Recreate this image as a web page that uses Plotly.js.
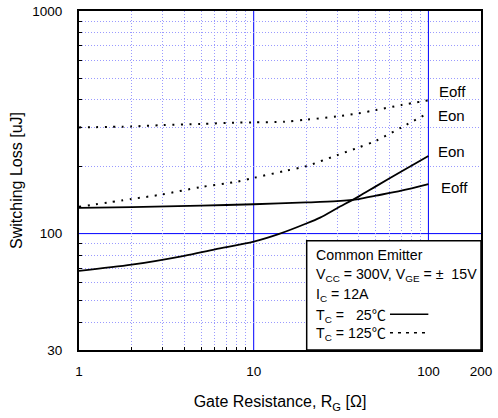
<!DOCTYPE html>
<html>
<head>
<meta charset="utf-8">
<script src="https://cdn.plot.ly/plotly-3.0.1.min.js"></script>
<style>html,body{margin:0;padding:0;background:#fff;}#chart{width:498px;height:418px;}</style>
</head>
<body>
<div id="chart"></div>
<script>
// Gate resistance (ohm) and switching loss (uJ)
const rgEon25 = [1, 2, 4, 6, 10, 14, 20, 24, 30, 40, 50, 70, 100];
const eon25 = [68, 72.5, 79.5, 85, 92, 99.7, 111, 118, 130, 147, 163, 190, 223];
const rgEoff25 = [1, 2, 5, 10, 20, 30, 40, 50, 70, 100];
const eoff25 = [130.5, 131.5, 133.5, 135.5, 138, 140, 143, 148, 156, 167];
const rg125 = [1, 2, 3, 5, 8, 10, 15, 20, 30, 40, 50, 70, 100];
const eon125 = [132, 143, 150, 162, 171, 178, 191, 201, 225, 244, 261, 300, 348];
const eoff125 = [300, 303, 307, 311, 315, 316, 318, 325, 336, 347, 359, 378, 397];
const xTicks = [1, 10, 100, 200];
const yTicks = [30, 100, 1000];
const xMajorLines = [10, 100];
const yMajorLines = [100];
const xMinorGrid = [2, 3, 4, 5, 6, 7, 8, 9, 20, 30, 40, 50, 60, 70, 80, 90];
const yMinorGrid = [40, 50, 60, 70, 80, 90, 200, 300, 400, 500, 600, 700, 800, 900];

const FONT = 'Liberation Sans, Arial, DejaVu Sans, sans-serif';
const CJK = 'Noto Sans CJK JP';
const DEG = '<span style="font-family:' + CJK + '">\u2103</span>';
const solid = {color: '#000', width: 1.8, shape: 'spline', smoothing: 0.8};
const dotted = {color: '#000', width: 2, dash: '2px,6.5px', shape: 'spline', smoothing: 0.8};

const traces = [
  {x: rgEon25, y: eon25, mode: 'lines', line: solid, name: 'Eon 25'},
  {x: rgEoff25, y: eoff25, mode: 'lines', line: solid, name: 'Eoff 25'},
  {x: rg125, y: eon125, mode: 'lines', line: dotted, name: 'Eon 125'},
  {x: rg125, y: eoff125, mode: 'lines', line: dotted, name: 'Eoff 125'}
];

function ann(text, x, y, size) {
  return {text: text, xref: 'x domain', yref: 'y domain', x: x, y: y,
    xanchor: 'left', yanchor: 'middle', showarrow: false,
    font: {family: FONT, size: size || 14.2, color: '#000'}};
}

const blue = {color: '#0000ff', width: 1};
const shapes = [];
xMajorLines.forEach(v => shapes.push({type: 'line', xref: 'x', yref: 'y domain', x0: v, x1: v, y0: 0, y1: 1, line: blue, layer: 'below'}));
yMajorLines.forEach(v => shapes.push({type: 'line', xref: 'x domain', yref: 'y', x0: 0, x1: 1, y0: v, y1: v, line: blue, layer: 'below'}));
shapes.push(
  {type: 'rect', xref: 'x domain', yref: 'y domain', x0: 0.5664, x1: 1, y0: 0, y1: 0.3224,
   fillcolor: '#fff', line: {color: '#000', width: 1.5}, layer: 'above'},
  {type: 'line', xref: 'x domain', yref: 'y domain', x0: 0.7736, x1: 0.869, y0: 0.1053, y1: 0.1053,
   line: {color: '#000', width: 1.5}, layer: 'above'},
  {type: 'line', xref: 'x domain', yref: 'y domain', x0: 0.7736, x1: 0.869, y0: 0.051, y1: 0.051,
   line: {color: '#000', width: 1.5, dash: '3px,5px'}, layer: 'above'}
);

function axis(minorVals) {
  return {
    type: 'log', ticks: '', showline: true, mirror: true, linecolor: '#000', linewidth: 2,
    showgrid: false, zeroline: false,
    tickfont: {family: FONT, size: 13.5, color: '#000'},
    minor: {tickmode: 'array', tickvals: minorVals, showgrid: true, gridcolor: '#9a9aff',
            griddash: '1px,2px', gridwidth: 1, ticks: 'inside', ticklen: 3, tickcolor: '#000'}
  };
}

const layout = {
  width: 498, height: 418,
  margin: {l: 79, r: 17, t: 11, b: 68},
  paper_bgcolor: '#fff', plot_bgcolor: '#fff',
  showlegend: false,
  font: {family: FONT, size: 14, color: '#000'},
  xaxis: Object.assign(axis(xMinorGrid), {
    range: [0, Math.log10(200)],
    tickvals: xTicks, ticktext: xTicks.map(String), ticklabelstandoff: 8,
    title: {text: 'Gate Resistance, R<sub>G</sub> [\u03a9]', font: {family: FONT, size: 16}, standoff: 18}
  }),
  yaxis: Object.assign(axis(yMinorGrid), {
    range: [Math.log10(30), 3],
    tickvals: yTicks, ticktext: yTicks.map(String), ticklabelstandoff: 12,
    title: {text: 'Switching Loss [uJ]', font: {family: FONT, size: 16}, standoff: 6}
  }),
  shapes: shapes,
  annotations: [
    ann('Eoff', 0.8898, 0.764, 15),
    ann('Eon', 0.888, 0.693, 15),
    ann('Eon', 0.888, 0.585, 15),
    ann('Eoff', 0.896, 0.48, 15),
    ann('Common Emitter', 0.584, 0.2796),
    ann('V<sub>CC</sub> = 300V, V<sub>GE</sub> = \u00b1  15V', 0.584, 0.2212),
    ann('I<sub>C</sub> = 12A', 0.584, 0.162),
    ann('T<sub>C</sub> =   25' + DEG, 0.584, 0.1053),
    ann('T<sub>C</sub> = 125' + DEG, 0.584, 0.051)
  ]
};

Plotly.newPlot('chart', traces, layout, {displayModeBar: false, staticPlot: true});
</script>
</body>
</html>
